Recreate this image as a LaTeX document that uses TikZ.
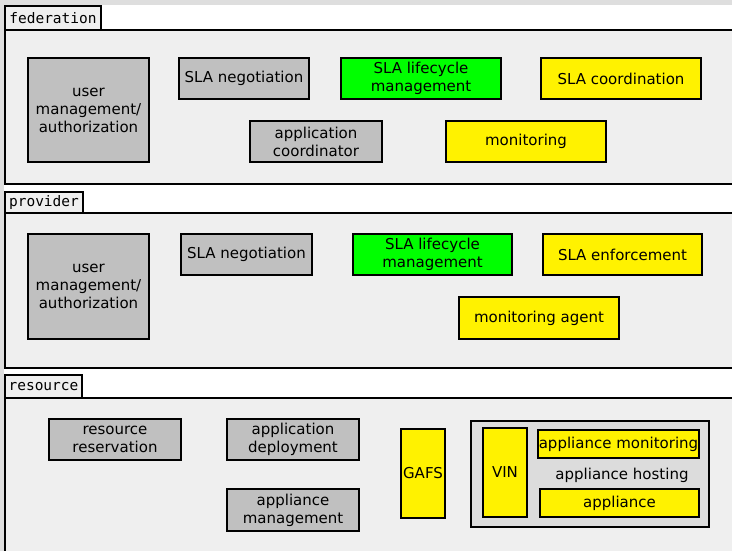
\documentclass[tikz,border=0pt]{standalone}
\usepackage{fontspec}
\setmainfont{DejaVu Sans}
\setmonofont{DejaVu Sans Mono}
\usepackage{xcolor}
\usetikzlibrary{positioning}
\definecolor{panelgray}{HTML}{EFEFEF}
\definecolor{boxgray}{HTML}{C0C0C0}
\definecolor{hostgray}{HTML}{DCDCDC}
\definecolor{edgegray}{HTML}{DEDEDE}

\begin{document}
\begin{tikzpicture}[x=1pt, y=-1pt,
    box/.style={rectangle, draw=black, line width=1.6pt, inner sep=0pt, align=center, font=\fontsize{15}{18}\selectfont},
    gbox/.style={box, fill=boxgray},
    ybox/.style={box, fill=yellow},
    lbox/.style={box, fill=green},
    tab/.style={rectangle, draw=black, line width=1.6pt, fill=panelgray, inner sep=0pt, font=\ttfamily\fontsize{14.5}{17}\selectfont},
    panel/.style={rectangle, draw=black, line width=1.6pt, fill=panelgray, inner sep=0pt}]
        \useasboundingbox (0,0) rectangle (732,551);
        \clip (0,0) rectangle (732,551);
        \fill[white] (0,0) rectangle (732,551);
        \fill[edgegray] (0,0) rectangle (732,5);
        \fill[edgegray] (0,0) rectangle (4,551);
        %federation
        \node[panel, minimum width=750, minimum height=154] (fedpanel) at (380,107){};
        \node[tab, minimum width=96, minimum height=24] (fedtab) at (53,18){federation};
        \node[gbox, minimum width=121, minimum height=104] (fuser) at (88.5,110){user\\management/\\authorization};
        \node[gbox, minimum width=130, minimum height=41] (fneg) at (244,78.5){SLA negotiation};
        \node[lbox, minimum width=160, minimum height=41] (flife) at (421,78.5){SLA lifecycle\\management};
        \node[ybox, minimum width=160, minimum height=41] (fcoord) at (621,78.5){SLA coordination};
        \node[gbox, minimum width=132, minimum height=41] (fapp) at (316,141.5){application\\coordinator};
        \node[ybox, minimum width=160, minimum height=41] (fmon) at (526,141.5){monitoring};
        %provider
        \node[panel, minimum width=750, minimum height=155] (provpanel) at (380,290.5){};
        \node[tab, minimum width=78, minimum height=21] (provtab) at (44,202.5){provider};
        \node[gbox, minimum width=121, minimum height=105] (puser) at (88.5,286.5){user\\management/\\authorization};
        \node[gbox, minimum width=131, minimum height=41] (pneg) at (246.5,254.5){SLA negotiation};
        \node[lbox, minimum width=159, minimum height=41] (plife) at (432.5,254.5){SLA lifecycle\\management};
        \node[ybox, minimum width=159, minimum height=41] (penf) at (622.5,254.5){SLA enforcement};
        \node[ybox, minimum width=160, minimum height=42] (pmon) at (539,318){monitoring agent};
        %resource
        \node[panel, minimum width=750, minimum height=170] (respanel) at (380,483){};
        \node[tab, minimum width=77, minimum height=23] (restab) at (43.5,386.5){resource};
        \node[gbox, minimum width=132, minimum height=41] (rres) at (115,439.5){resource\\reservation};
        \node[gbox, minimum width=132, minimum height=41] (rdep) at (293,439.5){application\\deployment};
        \node[gbox, minimum width=132, minimum height=42] (rapp) at (293,510){appliance\\management};
        \node[ybox, minimum width=44, minimum height=89] (gafs) at (423,473.5){GAFS};
        %appliance hosting
        \node[box, fill=hostgray, minimum width=238, minimum height=106] (host) at (590,474){};
        \node[font=\fontsize{15}{18}\selectfont, inner sep=0pt] (hostlabel) at (622,475){appliance hosting};
        \node[ybox, minimum width=44, minimum height=89] (vin) at (505,472.5){VIN};
        \node[ybox, minimum width=161, minimum height=28] (amon) at (618.5,444){appliance monitoring};
        \node[ybox, minimum width=159, minimum height=28] (appl) at (619.5,503){appliance};
\end{tikzpicture}
\end{document}
